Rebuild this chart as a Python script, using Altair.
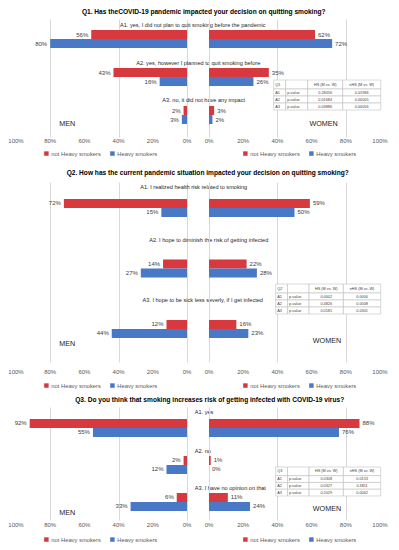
import altair as alt
import pandas as pd

# ---------------- data ----------------
SERIES = ["not Heavy smokers", "Heavy smokers"]
ANSWERS = ["A1", "A2", "A3"]
TICKS = [0, 20, 40, 60, 80, 100]

TITLES = [
    "Q1. Has theCOVID-19 pandemic impacted your decision on quitting smoking?",
    "Q2. How has the current pandemic situation impacted your decision on quitting smoking?",
    "Q3. Do you think that smoking increases risk of getting infected with COVID-19 virus?",
]
ANSWER_TEXT = [
    ["A1. yes, I did not plan to quit smoking before the pandemic",
     "A2. yes, however I planned to quit smoking before",
     "A3. no, it did not have any impact"],
    ["A1. I realized health risk related to smoking",
     "A2. I hope to diminish the risk of getting infected",
     "A3. I hope to be sick less severly, if I get infected"],
    ["A1. yes", "A2. no", "A3. I have no opinion on that"],
]
MEN_NOT_HEAVY = [[56, 43, 2], [72, 14, 12], [92, 2, 6]]
MEN_HEAVY = [[80, 16, 3], [15, 27, 44], [55, 12, 33]]
WOMEN_NOT_HEAVY = [[62, 35, 3], [59, 22, 16], [88, 1, 11]]
WOMEN_HEAVY = [[72, 26, 2], [50, 28, 23], [76, 0, 24]]

TABLE_QS = ["Q1", "Q2", "Q3"]
TABLE_HEAD = ["HS (M vs. W)", "nHS (M vs. W)"]
P_HS = [["0.28056", "0.01684", "0.03886"],
        ["0.0002", "0.4826", "0.0181"],
        ["0.0308", "0.0327", "0.2029"]]
P_NHS = [["0.01986", "0.00005", "0.00056"],
         ["0.0000", "0.0008", "0.0301"],
         ["0.0153", "0.3811", "0.0062"]]

# ---------------- layout / style ----------------
RED = "#d8393e"
BLUE = "#4878c6"
GRID = "#d9d9d9"
TXT = "#404040"
W = 171
PLOT_H = [118, 180, 113]
Y_PAD = [(0.526, 0.316, 0.46), (0.529, 0.252, 0.557), (0.54, 0.297, 0.545)]
TICK_LABEL_DY = [1, 7, 2]
LEGEND_Y = [131.5, 200.5, 129.5]
LEGEND_X = {"men": 27.5, "women": 33.5}
LABEL_DY = [[-14, -14, -15], [-26, -34, -34], [-15.5, -13.5, -13.5]]
LABEL_X = [[176.7, 182.2, 187.7], [177.7, 192.7, 186.7], [178.7, 178.7, 178.7]]
LABEL_ALIGN = ["center", "center", "left"]
TITLE_X = [187.7, 191.7, 193.7]
TITLE_Y = [-7.5, -9, -7]
SEX_DY = {"men": [9, 10, 11.5], "women": [9, 7, 7.5]}
SEX_X = {"men": [70, 70, 70], "women": [67, 69, 69]}
TABLE_X = [[64.7, 171.7], [66.7, 171.7], [66.7, 171.7]]
TABLE_Y = [[61, 91], [102, 132], [60, 89]]
COL_EDGES = [0, 12, 34, 69, 107]
ROW_EDGES = [0, 9, 16, 23, 30]


def table_layer(p):
    rows = [[TABLE_QS[p], "", TABLE_HEAD[0], TABLE_HEAD[1]]]
    for i, a in enumerate(ANSWERS):
        rows.append([a, "p-value", P_HS[p][i], P_NHS[p][i]])
    recs = []
    for r, row in enumerate(rows):
        for c, t in enumerate(row):
            x0, x1 = COL_EDGES[c], COL_EDGES[c + 1]
            y0, y1 = ROW_EDGES[r], ROW_EDGES[r + 1]
            recs.append(dict(x0=x0, x1=x1, y0=y0, y1=y1, t=t,
                             tx=(x0 + 1.5) if c < 2 else (x0 + x1) / 2,
                             ty=(y0 + y1) / 2, left=c < 2))
    df = pd.DataFrame(recs)
    xs = alt.Scale(domain=[0, COL_EDGES[-1]], range=TABLE_X[p], nice=False, zero=False)
    ys = alt.Scale(domain=[0, ROW_EDGES[-1]], range=TABLE_Y[p], nice=False, zero=False)
    base = alt.Chart(df)
    rect = base.mark_rect(fill="white", stroke="#bfbfbf", strokeWidth=0.6).encode(
        x=alt.X("x0:Q", scale=xs, axis=None), x2="x1:Q",
        y=alt.Y("y0:Q", scale=ys, axis=None), y2="y1:Q")
    tl = base.transform_filter("datum.left").mark_text(
        align="left", baseline="middle", fontSize=3.8, color=TXT).encode(
        x=alt.X("tx:Q", scale=xs, axis=None), y=alt.Y("ty:Q", scale=ys, axis=None), text="t:N")
    tc = base.transform_filter("!datum.left").mark_text(
        align="center", baseline="middle", fontSize=3.8, color=TXT).encode(
        x=alt.X("tx:Q", scale=xs, axis=None), y=alt.Y("ty:Q", scale=ys, axis=None), text="t:N")
    return alt.layer(rect, tl, tc)


def half(p, side):
    men = side == "men"
    nh = MEN_NOT_HEAVY[p] if men else WOMEN_NOT_HEAVY[p]
    hv = MEN_HEAVY[p] if men else WOMEN_HEAVY[p]
    df = pd.DataFrame({
        "answer": ANSWERS * 2,
        "series": [SERIES[0]] * 3 + [SERIES[1]] * 3,
        "value": nh + hv,
    })
    df["label"] = df["value"].astype(str) + "%"
    pi, po, al = Y_PAD[p]
    xs = alt.Scale(domain=[0, 100], reverse=men, nice=False, zero=True)
    ys = alt.Scale(domain=ANSWERS, paddingInner=pi, paddingOuter=po, align=al)
    yo = alt.Scale(domain=SERIES, paddingInner=0, paddingOuter=0)
    xaxis = alt.Axis(values=TICKS, grid=True, gridColor=GRID, gridWidth=1, ticks=False,
                     domain=False, labels=False)
    base = alt.Chart(df).encode(
        y=alt.Y("answer:N", scale=ys, axis=None),
        yOffset=alt.YOffset("series:N", scale=yo),
    )
    bars = base.mark_bar().encode(
        x=alt.X("value:Q", scale=xs, title=None, axis=xaxis),
        color=alt.Color("series:N", scale=alt.Scale(domain=SERIES, range=[RED, BLUE]),
                        legend=alt.Legend(orient="none", legendX=LEGEND_X[side], legendY=LEGEND_Y[p],
                                          direction="horizontal", title=None, symbolType="square",
                                          symbolSize=20, symbolStrokeWidth=0, labelFontSize=5.8,
                                          labelColor="#595959", columnPadding=8, labelOffset=2,
                                          padding=0)),
    )
    vals = base.mark_text(align="right" if men else "left", dx=-3 if men else 3,
                          baseline="middle", fontSize=6, color=TXT).encode(
        x=alt.X("value:Q"), text="label:N")
    tdf_ticks = pd.DataFrame({"v": TICKS})
    tdf_ticks["t"] = tdf_ticks["v"].astype(str) + "%"
    tick_labels = alt.Chart(tdf_ticks).mark_text(
        fontSize=6, color="#595959", baseline="top", dy=TICK_LABEL_DY[p]).encode(
        x=alt.X("v:Q"), y=alt.value(PLOT_H[p]), text="t:N")
    layers = [bars, vals, tick_labels]
    sex = pd.DataFrame({"t": ["MEN" if men else "WOMEN"]})
    layers.append(alt.Chart(sex).mark_text(fontSize=7.2, color="#1a1a1a", baseline="middle",
                                           dy=SEX_DY[side][p]).encode(
        x=alt.datum(SEX_X[side][p]), y=alt.datum("A3"), text="t:N"))
    if men:
        for i, a in enumerate(ANSWERS):
            ldf = pd.DataFrame({"t": [ANSWER_TEXT[p][i]]})
            layers.append(alt.Chart(ldf).mark_text(
                fontSize=5.6, color="#262626", align=LABEL_ALIGN[p], baseline="middle",
                dy=LABEL_DY[p][i]).encode(
                x=alt.value(LABEL_X[p][i]), y=alt.datum(a), text="t:N"))
        tdf = pd.DataFrame({"t": [TITLES[p]]})
        layers.append(alt.Chart(tdf).mark_text(
            fontSize=6.6, fontWeight="bold", color="black", align="center", baseline="middle").encode(
            x=alt.value(TITLE_X[p]), y=alt.value(TITLE_Y[p]), text="t:N"))
    inner = alt.layer(*layers)
    if men:
        ch = inner
    else:
        ch = alt.layer(inner, table_layer(p)).resolve_scale(x="independent", y="independent")
    return ch.properties(width=W, height=PLOT_H[p])


charts = []
for p in range(3):
    charts.append(half(p, "men"))
    charts.append(half(p, "women"))

chart = alt.concat(*charts, columns=2, spacing={"row": 45, "column": 22}, bounds="flush") \
    .resolve_scale(color="independent").resolve_legend(color="independent") \
    .properties(padding={"left": 0, "top": 0, "right": 2, "bottom": 2}) \
    .configure(font="Liberation Sans") \
    .configure_view(stroke=None)

chart.save("out.html", embed_options={"renderer": "svg", "actions": False})
